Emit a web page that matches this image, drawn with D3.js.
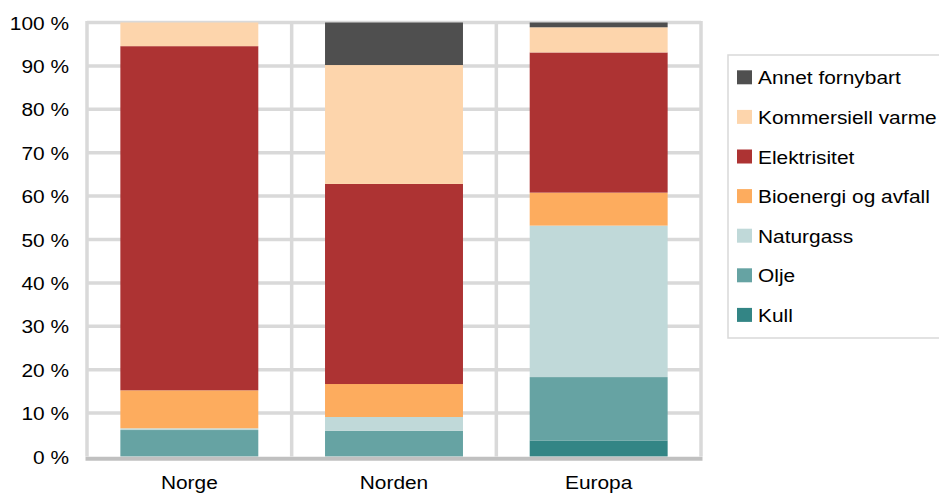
<!DOCTYPE html>
<html>
<head>
<meta charset="utf-8">
<script src="https://cdn.jsdelivr.net/npm/d3@7"></script>
<style>
  html, body { margin: 0; padding: 0; background: #fff; }
  svg { display: block; font-family: "Liberation Sans", Arial, sans-serif; }
</style>
</head>
<body>
<svg id="chart" width="939" height="493"></svg>
<script>
// ---- Data ----
const categories = ["Norge", "Norden", "Europa"];
const seriesNames = ["Kull", "Olje", "Naturgass", "Bioenergi og avfall", "Elektrisitet", "Kommersiell varme", "Annet fornybart"];
const kull        = [0.0, 0.0, 3.7];
const olje        = [6.1, 5.9, 14.6];
const naturgass   = [0.4, 3.2, 34.9];
const bioenergi   = [8.75, 7.6, 7.6];
const elektrisitet= [79.3, 46.1, 32.3];
const kommersiell = [5.45, 27.4, 5.8];
const annet       = [0.0, 9.8, 1.1];
const seriesColors = ["#338585", "#66a3a3", "#c0d9d9", "#fdac5e", "#ad3333", "#fdd5ac", "#4f4f4f"];
const yTicks = [0, 10, 20, 30, 40, 50, 60, 70, 80, 90, 100];
const legendOrder = ["Annet fornybart", "Kommersiell varme", "Elektrisitet", "Bioenergi og avfall", "Naturgass", "Olje", "Kull"];

const seriesValues = [kull, olje, naturgass, bioenergi, elektrisitet, kommersiell, annet];
const table = categories.map((c, i) => {
  const row = { cat: c };
  seriesNames.forEach((s, j) => row[s] = seriesValues[j][i]);
  return row;
});

// ---- Layout ----
const svg = d3.select("#chart");
const plot = { left: 87, right: 701, top: 22.5, bottom: 456.5 };
const textScaleX = 1.13;
const fontSize = 18.5;

const x = d3.scaleBand().domain(categories).range([plot.left, plot.right]).padding(0);
const barFrac = 0.674;
const y = d3.scaleLinear().domain([0, 100]).range([plot.bottom, plot.top]);
const color = d3.scaleOrdinal().domain(seriesNames).range(seriesColors);

// gridlines
const grid = svg.append("g");
grid.selectAll("line.h").data(yTicks.filter(d => d > 0)).enter().append("line")
  .attr("x1", plot.left).attr("x2", plot.right)
  .attr("y1", d => y(d)).attr("y2", d => y(d))
  .attr("stroke", "#d9d9d9").attr("stroke-width", 3.5);
const vlines = [plot.left].concat(categories.map(c => x(c) + x.bandwidth()));
grid.selectAll("line.v").data(vlines).enter().append("line")
  .attr("x1", d => d).attr("x2", d => d)
  .attr("y1", plot.top - 1.5).attr("y2", plot.bottom)
  .attr("stroke", "#d9d9d9").attr("stroke-width", 3.5);

// bars
const stack = d3.stack().keys(seriesNames);
const stacked = stack(table);
const bw = x.bandwidth() * barFrac;
svg.append("g").selectAll("g").data(stacked).enter().append("g")
  .attr("fill", d => color(d.key))
  .selectAll("rect").data(d => d).enter().append("rect")
  .attr("x", d => x(d.data.cat) + (x.bandwidth() - bw) / 2)
  .attr("width", bw)
  .attr("y", d => y(d[1]))
  .attr("height", d => Math.max(0, y(d[0]) - y(d[1])));

// bottom axis line
svg.append("line")
  .attr("x1", plot.left - 1.5).attr("x2", plot.right + 1.5)
  .attr("y1", plot.bottom + 2.2).attr("y2", plot.bottom + 2.2)
  .attr("stroke", "#c0c0c0").attr("stroke-width", 4);

// y-axis labels
const yAxis = d3.axisLeft(y).tickValues(yTicks).tickFormat(d => d + " %").tickSize(0).tickPadding(0);
const yg = svg.append("g").attr("transform", "translate(69,0)").call(yAxis);
yg.select(".domain").remove();
yg.selectAll(".tick text")
  .attr("font-size", fontSize).attr("fill", "#000")
  .attr("font-family", "'Liberation Sans', Arial, sans-serif")
  .attr("x", 0).attr("dy", "0.36em")
  .attr("transform", `scale(${textScaleX},1)`);

// x-axis labels
const xAxis = d3.axisBottom(x).tickSize(0).tickPadding(0);
const xg = svg.append("g").attr("transform", "translate(0,489)").call(xAxis);
xg.select(".domain").remove();
xg.selectAll(".tick text")
  .attr("font-size", fontSize).attr("fill", "#000")
  .attr("font-family", "'Liberation Sans', Arial, sans-serif")
  .attr("y", 0).attr("dy", "0")
  .attr("transform", `scale(${textScaleX},1)`);

// legend
const lg = svg.append("g");
lg.append("rect").attr("x", 728).attr("y", 55).attr("width", 260).attr("height", 283)
  .attr("fill", "#fff").attr("stroke", "#d9d9d9").attr("stroke-width", 1.5);
const items = lg.selectAll("g.item").data(legendOrder).enter().append("g")
  .attr("transform", (d, i) => `translate(737, ${84.3 + i * 39.6})`);
items.append("rect").attr("x", 0).attr("y", -14).attr("width", 15).attr("height", 14)
  .attr("fill", d => color(d));
items.append("text").attr("x", 21 / textScaleX).attr("y", 0)
  .attr("font-size", fontSize).attr("fill", "#000")
  .attr("transform", `scale(${textScaleX},1)`)
  .text(d => d);
</script>
</body>
</html>
